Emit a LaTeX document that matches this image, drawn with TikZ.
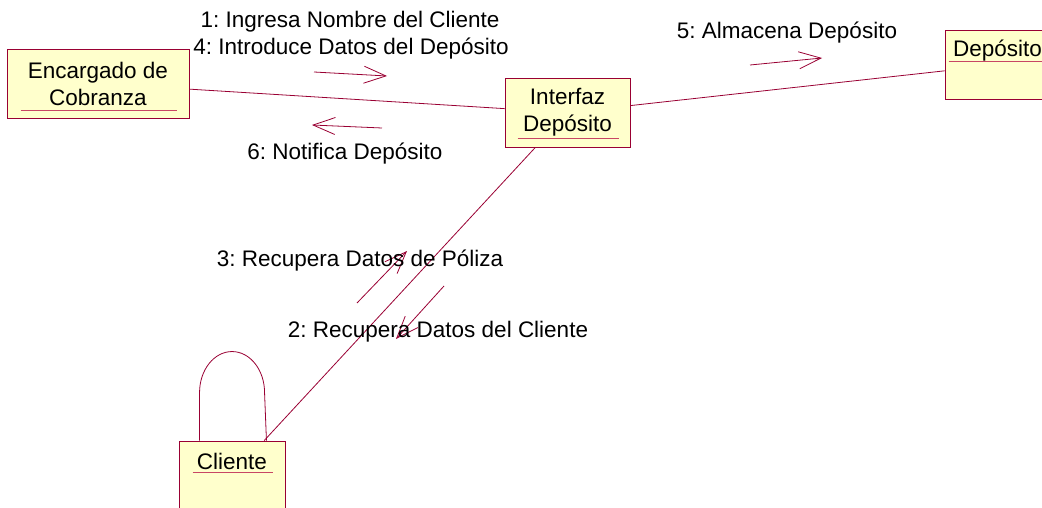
\documentclass[tikz,border=0pt]{standalone}
\usepackage{fontspec}
\setmainfont{Liberation Sans}
\usetikzlibrary{arrows.meta}
\definecolor{rosered}{RGB}{153,0,51}
\definecolor{objfill}{RGB}{255,255,204}
\definecolor{ulred}{RGB}{200,70,100}
\frenchspacing

\begin{document}
\begin{tikzpicture}[x=1pt,y=-1pt,
    obj/.style={draw=rosered,fill=objfill,line width=0.9pt,minimum height=69pt,
      inner sep=0pt,align=center,font=\fontsize{22.5}{27}\selectfont},
    link/.style={draw=rosered,line width=0.8pt},
    uline/.style={draw=ulred,line width=0.9pt},
    msg/.style={draw=rosered,line width=0.8pt,-{Straight Barb[length=22pt,width=17pt]}},
    lbl/.style={anchor=base,inner sep=0pt,font=\fontsize{22.5}{27}\selectfont}]
  \useasboundingbox (0,0) rectangle (1042,508);
  \clip (0,0) rectangle (1042,508);

  %% the objects
  \node[obj,minimum width=182pt] (enc) at (98,83.5) {Encargado de\\Cobranza};
  \node[obj,minimum width=125pt] (int) at (567.5,112.5) {Interfaz\\Dep\'osito};
  \node[obj,minimum width=105pt,text height=26pt,text depth=43pt] (dep) at (997.5,65) {Dep\'osito};
  \node[obj,minimum width=106pt,text height=28pt,text depth=41pt] (cli) at (232,475.5) {Cliente};

  %% underlined object names
  \draw[uline] ([xshift=14pt,yshift=8pt]enc.south west) -- ([xshift=-12pt,yshift=8pt]enc.south east);
  \draw[uline] ([xshift=13pt,yshift=9pt]int.south west) -- ([xshift=-11pt,yshift=9pt]int.south east);
  \draw[uline] ([xshift=4pt,yshift=-31pt]dep.north west) -- ([xshift=-4pt,yshift=-31pt]dep.north east);
  \draw[uline] ([xshift=14pt,yshift=-32pt]cli.north west) -- ([xshift=-12pt,yshift=-32pt]cli.north east);

  %% links
  \draw[link] (enc) -- (int);
  \draw[link] (int) -- (dep);
  \draw[link] (int) -- (cli);
  \draw[link] ([xshift=21pt]cli.north west) -- ++(0,-48)
    arc[start angle=180,end angle=0,x radius=32.5pt,y radius=41pt] -- ([xshift=-19pt]cli.north east);

  %% message arrows
  \coordinate (m1s) at (314,72);  \coordinate (m1e) at (387,76);
  \coordinate (m6s) at (382,128); \coordinate (m6e) at (312,125);
  \coordinate (m5s) at (750,65);  \coordinate (m5e) at (822,58);
  \coordinate (m3s) at (357,303); \coordinate (m3e) at (407,251);
  \coordinate (m2s) at (444,286); \coordinate (m2e) at (396,339);
  \foreach \m in {m1,m6,m5,m3,m2} {   % one arrow for each message
    \draw[msg] (\m s) -- (\m e);
  }

  %% message labels
  \node[lbl] (l1) at (350,28) {1: Ingresa Nombre del Cliente};
  \node[lbl] (l4) at (351,55) {4: Introduce Datos del Dep\'osito};
  \node[lbl] (l5) at (787,39) {5: Almacena Dep\'osito};
  \node[lbl] (l6) at (345,160) {6: Notifica Dep\'osito};
  \node[lbl] (l3) at (360,266) {3: Recupera Datos de P\'oliza};
  \node[lbl] (l2) at (438,337) {2: Recupera Datos del Cliente};
\end{tikzpicture}
\end{document}
